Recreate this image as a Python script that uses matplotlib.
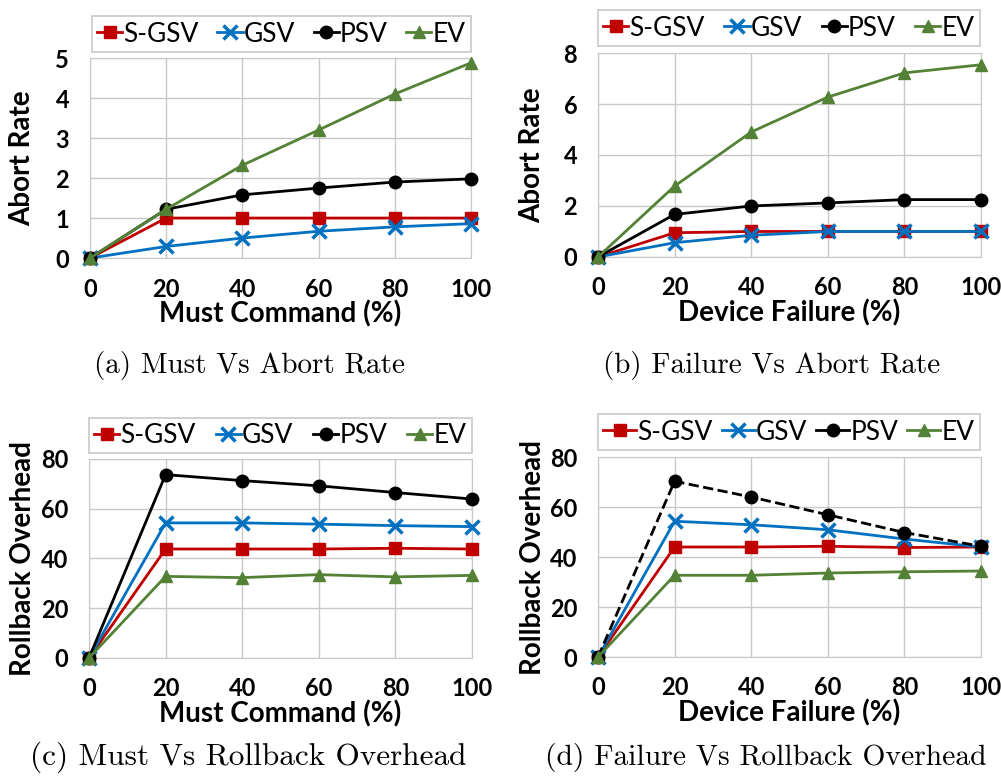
import numpy as np
import matplotlib.pyplot as plt
from matplotlib.lines import Line2D

x = [0, 20, 40, 60, 80, 100]
series = ["S-GSV", "GSV", "PSV", "EV"]

# (a) abort rate vs must command
a_sgsv = [0, 1.0, 1.0, 1.0, 1.0, 1.0]
a_gsv = [0, 0.29, 0.5, 0.67, 0.78, 0.86]
a_psv = [0, 1.22, 1.58, 1.75, 1.9, 1.98]
a_ev = [0, 1.22, 2.32, 3.2, 4.1, 4.88]

# (b) abort rate vs device failure
b_sgsv = [0, 0.95, 1.0, 1.0, 1.0, 1.0]
b_gsv = [0, 0.56, 0.85, 1.0, 1.0, 1.0]
b_psv = [0, 1.67, 2.0, 2.12, 2.25, 2.25]
b_ev = [0, 2.78, 4.9, 6.27, 7.22, 7.54]

# (c) rollback overhead vs must command
c_sgsv = [0, 43.8, 43.8, 43.8, 44.1, 43.8]
c_gsv = [0, 54.3, 54.3, 53.8, 53.2, 52.8]
c_psv = [0, 73.7, 71.3, 69.2, 66.5, 63.9]
c_ev = [0, 32.8, 32.3, 33.5, 32.6, 33.2]

# (d) rollback overhead vs device failure
d_sgsv = [0, 44.0, 44.0, 44.3, 43.8, 44.0]
d_gsv = [0, 54.3, 52.9, 50.9, 47.2, 44.0]
d_psv = [0, 70.3, 64.0, 56.9, 49.8, 44.3]
d_ev = [0, 32.7, 32.7, 33.6, 34.1, 34.4]

colors = ["#C00000", "#0070C0", "#000000", "#538135"]
markers = ["s", "x", "o", "^"]
msizes = [8, 10, 9, 8]

panels = [
    (a_sgsv, a_gsv, a_psv, a_ev, [0, 1, 2, 3, 4, 5], 5, "Abort Rate", "Must Command (%)",
     "(a) Must Vs Abort Rate", [0.0899, 0.670, 0.3806, 0.2558], (92, 15, 471, 53), False, 22),
    (b_sgsv, b_gsv, b_psv, b_ev, [0, 2, 4, 6, 8], 8, "Abort Rate", "Device Failure (%)",
     "(b) Failure Vs Abort Rate", [0.5974, 0.6714, 0.3826, 0.2608], (598, 9, 980, 47), False, 532),
    (c_sgsv, c_gsv, c_psv, c_ev, [0, 20, 40, 60, 80], 80, "Rollback Overhead", "Must Command (%)",
     "(c) Must Vs Rollback Overhead", [0.0889, 0.1586, 0.3826, 0.2545], (89, 417, 472, 454), False, 23),
    (d_sgsv, d_gsv, d_psv, d_ev, [0, 20, 40, 60, 80], 80, "Rollback Overhead", "Device Failure (%)",
     "(d) Failure Vs Rollback Overhead", [0.5974, 0.1598, 0.3826, 0.2558], (598, 413, 980, 451), True, 533),
]
captions = [(250, 366, 21), (772, 366, 21), (248, 757, 22.5), (766, 757, 21.3)]

W, H = 1001, 782
fig = plt.figure(figsize=(W / 100, H / 100), dpi=100)
tickfont = "Lato"

for i, (s1, s2, s3, s4, yt, ymax, ylab, xlab, cap, rect, lbox, dashed, ylx) in enumerate(panels):
    ax = fig.add_axes(rect)
    data = [s1, s2, s3, s4]
    handles = []
    for j in range(4):
        ls = "--" if (dashed and j == 2) else "-"
        ax.plot(x, data[j], color=colors[j], marker=markers[j], markersize=msizes[j],
                markeredgewidth=2.5 if markers[j] == "x" else 1, linewidth=2, linestyle=ls,
                clip_on=False, zorder=3 + j * 0.1)
        handles.append(Line2D([], [], color=colors[j], marker=markers[j], markersize=msizes[j],
                              markeredgewidth=2.5 if markers[j] == "x" else 1, linewidth=2))
    ax.set_xlim(0, 100)
    ax.set_ylim(0, ymax)
    ax.set_xticks(x)
    ax.set_yticks(yt)
    ax.grid(True, color="#c8c8c8", linewidth=1)
    ax.set_axisbelow(True)
    for sp in ax.spines.values():
        sp.set_color("#c8c8c8")
    ax.tick_params(axis="x", length=0, pad=14, labelsize=17)
    ax.tick_params(axis="y", length=0, pad=15, labelsize=17)
    for lab in ax.get_xticklabels() + ax.get_yticklabels():
        lab.set_fontfamily(tickfont)
        lab.set_fontweight("bold")
    ax.set_xlabel(xlab, fontsize=20, fontweight="bold", fontfamily=tickfont)
    ax.set_ylabel(ylab, fontsize=20, fontweight="bold", fontfamily=tickfont)
    bb = ax.get_position()
    axw = bb.width * W
    axh = bb.height * H
    ax.yaxis.set_label_coords((ylx - bb.x0 * W) / axw, 0.5)
    ax.xaxis.set_label_coords(0.5, -56 / axh)
    ax.xaxis.label.set_va("center")
    ax.yaxis.label.set_va("center")

    x0, y0, x1, y1 = lbox
    leg = fig.legend(handles, series, loc="center", ncol=4,
                     bbox_to_anchor=(x0 / W, 1 - y1 / H, (x1 - x0) / W, (y1 - y0) / H),
                     mode="expand", fancybox=False, edgecolor="#c8c8c8", framealpha=1,
                     borderaxespad=0, borderpad=0.2, handlelength=0.95 if not dashed else 1.25,
                     handletextpad=0.05, columnspacing=0.2, prop={"family": tickfont, "size": 19})
    leg.get_frame().set_linewidth(1.2)

    cx, cy, cs = captions[i]
    fig.text(cx / W, 1 - cy / H, cap, ha="center", va="center", fontsize=cs, fontfamily="cmr10")

fig.savefig("out.png", dpi=100)
